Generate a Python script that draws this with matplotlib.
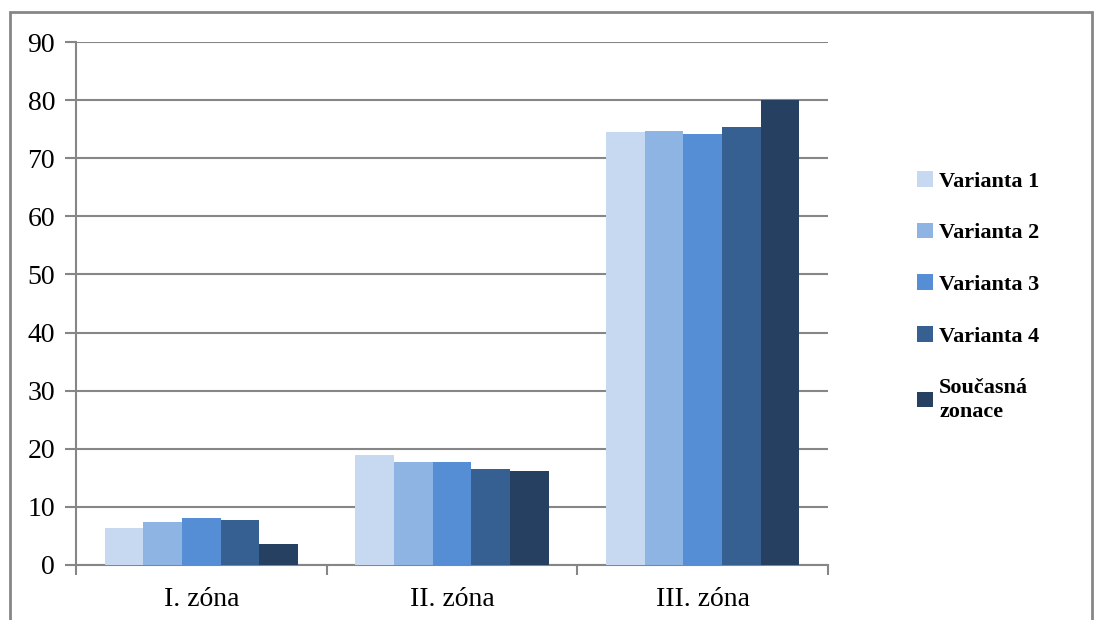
import matplotlib.pyplot as plt
import numpy as np
from matplotlib.patches import Rectangle

plt.rcParams['font.family'] = ['Liberation Serif', 'DejaVu Serif']

# data
zony = ['I. zóna', 'II. zóna', 'III. zóna']
varianta_1 = [6.3, 19.0, 74.5]
varianta_2 = [7.4, 17.8, 74.6]
varianta_3 = [8.1, 17.7, 74.1]
varianta_4 = [7.8, 16.6, 75.4]
soucasna = [3.6, 16.1, 80.1]

serie = [varianta_1, varianta_2, varianta_3, varianta_4, soucasna]
nazvy = ['Varianta 1', 'Varianta 2', 'Varianta 3', 'Varianta 4', 'Současná\nzonace']
barvy = ['#C6D9F1', '#8EB4E3', '#558ED5', '#376092', '#254061']

fig = plt.figure(figsize=(10.95, 6.2), dpi=100)
ax = fig.add_axes([76 / 1095, 1 - 565 / 620, (828 - 76) / 1095, (565 - 42) / 620])

x = np.arange(len(zony))
w = 0.154
for i, (vals, nazev, barva) in enumerate(zip(serie, nazvy, barvy)):
    ax.bar(x + (i - 2) * w, vals, width=w, color=barva, label=nazev, zorder=3)

seda = '#868686'
ax.set_xlim(-0.5, 2.5)
ax.set_ylim(0, 90)
ax.set_yticks(range(0, 91, 10))
ax.yaxis.grid(True, color=seda, linewidth=1.5, zorder=0)
ax.set_xticks(x)
ax.set_xticklabels(zony, fontsize=20)
ax.set_xticks([0.5, 1.5, 2.5, -0.5], minor=True)
ax.tick_params(axis='x', which='major', length=0, pad=16)
ax.tick_params(axis='x', which='minor', length=7, width=1.5, color=seda)
ax.tick_params(axis='y', length=8, width=1.5, color=seda, labelsize=20, pad=7)
for s in ['top', 'right']:
    ax.spines[s].set_visible(False)
for s in ['left', 'bottom']:
    ax.spines[s].set_color(seda)
    ax.spines[s].set_linewidth(1.5)

leg = fig.legend(loc='upper left', bbox_to_anchor=(897 / 1095, 1 - 151 / 620),
                 frameon=False, prop={'weight': 'bold', 'size': 16},
                 handlelength=0.7, handleheight=0.7, handletextpad=0.3,
                 labelspacing=1.4)
for t in leg.get_texts():
    t.set_linespacing(1.3)

# outer frame
fig.patches.append(Rectangle((10 / 1095, -0.1), (1092 - 10) / 1095, 1.1 - 12 / 620,
                             transform=fig.transFigure, fill=False,
                             edgecolor=seda, linewidth=2))

fig.savefig('out.png', dpi=100)
